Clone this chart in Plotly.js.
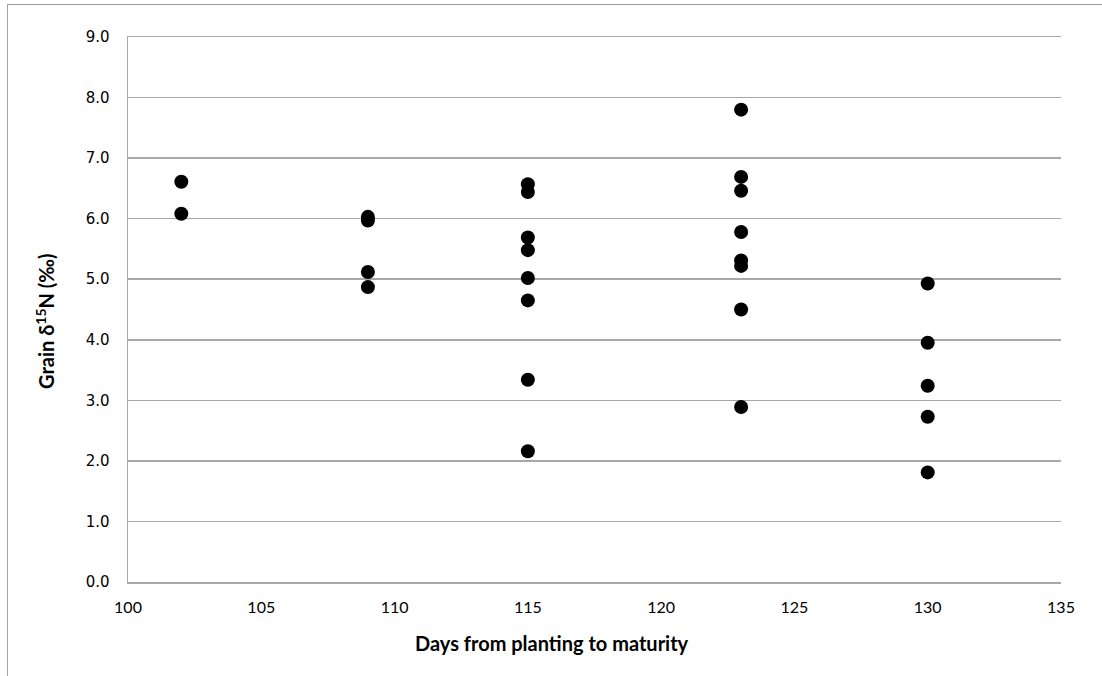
<!DOCTYPE html>
<html>
<head>
<meta charset="utf-8">
<script src="https://cdn.plot.ly/plotly-3.0.1.min.js"></script>
<style>
  html, body { margin: 0; padding: 0; background: #fff; }
  #chart { width: 1102px; height: 676px; position: absolute; left: 0; top: 0; }
  #frame { position: absolute; left: 7px; top: 4px; width: 1100px; height: 680px;
           border-left: 1.5px solid #a0a0a0; border-top: 1.5px solid #a0a0a0; pointer-events: none; }
</style>
</head>
<body>
<div id="chart"></div>
<div id="frame"></div>
<script>
// Days from planting to maturity (x) and grain δ15N in ‰ (y), one entry per sample
const days = [102, 102,
              109, 109, 109, 109,
              115, 115, 115, 115, 115, 115, 115, 115,
              123, 123, 123, 123, 123, 123, 123, 123,
              130, 130, 130, 130, 130];
const grainD15N = [6.61, 6.08,
                   6.03, 5.97, 5.12, 4.87,
                   6.57, 6.44, 5.69, 5.48, 5.02, 4.65, 3.34, 2.16,
                   7.80, 6.69, 6.46, 5.78, 5.31, 5.22, 4.50, 2.89,
                   4.93, 3.95, 3.24, 2.73, 1.81];

const xTicks = [100, 105, 110, 115, 120, 125, 130, 135];
const yTicks = [0, 1, 2, 3, 4, 5, 6, 7, 8, 9];
const yTickText = ['0.0', '1.0', '2.0', '3.0', '4.0', '5.0', '6.0', '7.0', '8.0', '9.0'];
const xTitle = 'Days from planting to maturity';
const yTitle = 'Grain δ<sup>15</sup>N (‰)';

const trace = {
  type: 'scatter',
  mode: 'markers',
  x: days,
  y: grainD15N,
  marker: { color: '#000000', size: 14, line: { width: 0 } },
  hoverinfo: 'x+y'
};

const gridColor = '#a8a8a8';
const titleFont = { family: 'Lato, "Open Sans", sans-serif', size: 20, color: '#000' };

const layout = {
  width: 1102,
  height: 676,
  margin: { l: 128, r: 41, t: 37, b: 94 },
  paper_bgcolor: '#ffffff',
  plot_bgcolor: '#ffffff',
  showlegend: false,
  xaxis: {
    range: [100, 135],
    tickvals: xTicks,
    ticktext: xTicks.map(String),
    showgrid: false,
    zeroline: false,
    showline: true,
    mirror: true,
    linecolor: gridColor,
    linewidth: 1.5,
    ticks: 'outside',
    ticklen: 10,
    tickcolor: 'rgba(0,0,0,0)',
    tickfont: { family: 'Lato, "Open Sans", sans-serif', size: 16, color: '#000' }
  },
  yaxis: {
    range: [0, 9],
    tickvals: yTicks,
    ticktext: yTickText,
    showgrid: true,
    gridcolor: gridColor,
    gridwidth: 1.5,
    zeroline: false,
    showline: true,
    linecolor: gridColor,
    linewidth: 1.5,
    ticks: 'outside',
    ticklen: 14,
    tickcolor: 'rgba(0,0,0,0)',
    tickfont: { family: '"DejaVu Sans", sans-serif', size: 15, color: '#000' }
  },
  annotations: [
    { text: '<b>' + xTitle + '</b>', xref: 'paper', yref: 'paper',
      x: 0.4544, y: -0.112, xanchor: 'center', yanchor: 'middle',
      showarrow: false, font: titleFont },
    { text: '<b>' + yTitle + '</b>', xref: 'paper', yref: 'paper',
      x: -0.089, y: 0.479, xanchor: 'center', yanchor: 'middle', textangle: -90,
      showarrow: false, font: titleFont }
  ]
};

Plotly.newPlot('chart', [trace], layout, { displayModeBar: false, staticPlot: true });
</script>
</body>
</html>
